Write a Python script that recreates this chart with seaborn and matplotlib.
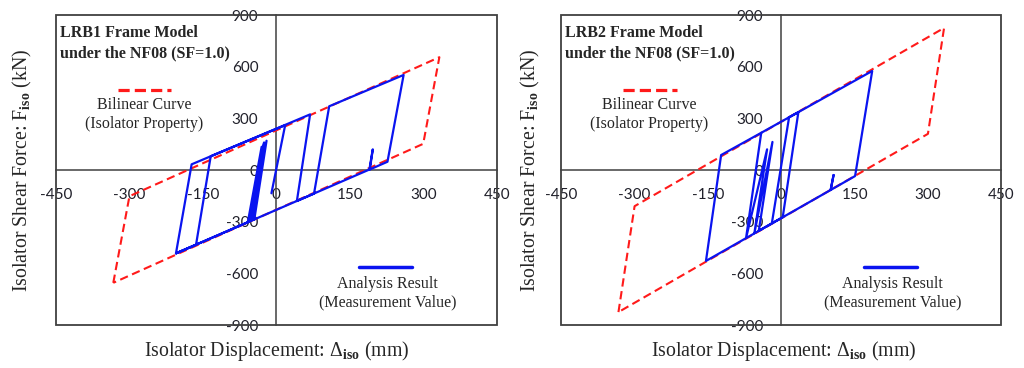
import numpy as np
import pandas as pd
import matplotlib
matplotlib.use("Agg")
import matplotlib.pyplot as plt
from matplotlib.patches import Rectangle
import seaborn as sns

# ── data ──
# bilinear isolator property (closed loop)
bilin1_disp = [-333, -300, 333, 300, -333]
bilin1_force = [-655, -152, 655, 152, -655]
bilin2_disp = [-333, -300, 333, 300, -333]
bilin2_force = [-825, -210, 825, 210, -825]

# analysis result hysteresis path, LRB1
lrb1_disp = [-10, 18, -134, -164, -205, -173, 69, 42, 77, 108, 260, 227, 190, 197, 191,
             -205, -55, -25, -50, -20, -45, -30, -58]
lrb1_force = [-135, 260, 80, -434, -484, 33, 323, -180, -137, 370, 552, 48, 2, 120, 4,
              -484, -299, 160, -292, 170, -287, 135, -300]

# analysis result hysteresis path, LRB2
lrb2_disp = [-19, 16, 35, 3, -46, -18, -55, -29, -72, -41, -123, -154, 101, 107, 101,
             151, 186, -41]
lrb2_force = [-305, 306, 336, -274, -353, 163, -367, 120, -395, 216, 87, -528, -116, -29,
              -116, -35, 575, 216]

ticks = [-900, -600, -300, 0, 300, 600, 900]
xticks = [-450, -300, -150, 0, 150, 300, 450]

panels = [
    ("LRB1 Frame Model\nunder the NF08 (SF=1.0)", bilin1_disp, bilin1_force, lrb1_disp, lrb1_force),
    ("LRB2 Frame Model\nunder the NF08 (SF=1.0)", bilin2_disp, bilin2_force, lrb2_disp, lrb2_force),
]

sns.set_theme(style="white")
plt.rcParams["font.family"] = ["Liberation Serif", "DejaVu Serif"]
plt.rcParams["mathtext.fontset"] = "custom"
plt.rcParams["mathtext.rm"] = "Liberation Serif"
plt.rcParams["mathtext.it"] = "Liberation Serif:italic"
plt.rcParams["mathtext.bf"] = "Liberation Serif:bold"
plt.rcParams["axes.unicode_minus"] = False

fig = plt.figure(figsize=(10.24, 3.68), dpi=100)
axes_pos = [[0.0547, 0.1168, 0.4303, 0.8424], [0.5481, 0.1168, 0.4297, 0.8424]]
ylab_x = [-0.075, -0.071]
xlab_x = [0.5, 0.505]

edge = "#404040"
for i, (title, bd, bf, ad, af) in enumerate(panels):
    ax = fig.add_axes(axes_pos[i])
    bil = pd.DataFrame({"disp": bd, "force": bf})
    res = pd.DataFrame({"disp": ad, "force": af})
    sns.lineplot(data=bil, x="disp", y="force", sort=False, estimator=None, ax=ax,
                 color="#FF1A1A", lw=1.5, linestyle=(0, (4, 2.2)), zorder=3)
    sns.lineplot(data=res, x="disp", y="force", sort=False, estimator=None, ax=ax,
                 color="#0A14F0", lw=1.6, zorder=4)

    ax.set_xlim(-450, 450)
    ax.set_ylim(-900, 900)
    ax.set_xticks(xticks)
    ax.set_yticks(ticks)
    ax.set_xlabel("")
    ax.set_ylabel("")

    for s in ["top", "right"]:
        ax.spines[s].set_visible(False)
    for s in ["left", "bottom"]:
        ax.spines[s].set_position(("data", 0))
        ax.spines[s].set_color(edge)
        ax.spines[s].set_linewidth(1.1)
    ax.add_patch(Rectangle((0, 0), 1, 1, transform=ax.transAxes, fill=False,
                           ec=edge, lw=1.3, clip_on=False, zorder=5))

    ax.tick_params(axis="x", direction="out", length=4, width=1.1, color=edge, pad=9,
                   labelsize=11, labelcolor="#20202a")
    ax.tick_params(axis="y", direction="out", length=4, width=1.1, color=edge, pad=9,
                   labelsize=11, labelcolor="#20202a")
    for lab in ax.get_xticklabels() + ax.get_yticklabels():
        lab.set_family(["Lato", "DejaVu Sans"])

    ax.text(0.009, 0.91, title, transform=ax.transAxes, ha="left", va="center",
            fontsize=11.5, fontweight="bold", linespacing=1.4)

    # legend keys and captions
    ax.plot([0.14, 0.262], [0.758, 0.758], transform=ax.transAxes, color="#FF1A1A",
            lw=2.3, linestyle=(0, (3.5, 1.6)), clip_on=False)
    ax.text(0.2, 0.71, "Bilinear Curve", transform=ax.transAxes, ha="center", va="center",
            fontsize=11.5)
    ax.text(0.2, 0.648, "(Isolator Property)", transform=ax.transAxes, ha="center",
            va="center", fontsize=11.5)
    ax.plot([0.688, 0.808], [0.187, 0.187], transform=ax.transAxes, color="#0A14F0",
            lw=2.5, clip_on=False)
    ax.text(0.753, 0.133, "Analysis Result", transform=ax.transAxes, ha="center",
            va="center", fontsize=11.5)
    ax.text(0.753, 0.073, "(Measurement Value)", transform=ax.transAxes, ha="center",
            va="center", fontsize=11.5)

    ax.text(ylab_x[i], 0.5, r"Isolator Shear Force: F$_{\mathbf{iso}}$ (kN)",
            transform=ax.transAxes, rotation=90, ha="center", va="center", fontsize=14.3)
    ax.text(xlab_x[i], -0.083, r"Isolator Displacement: $\Delta_{\mathbf{iso}}$ (mm)",
            transform=ax.transAxes, ha="center", va="center", fontsize=14.3)

fig.savefig("out.png", dpi=100)
